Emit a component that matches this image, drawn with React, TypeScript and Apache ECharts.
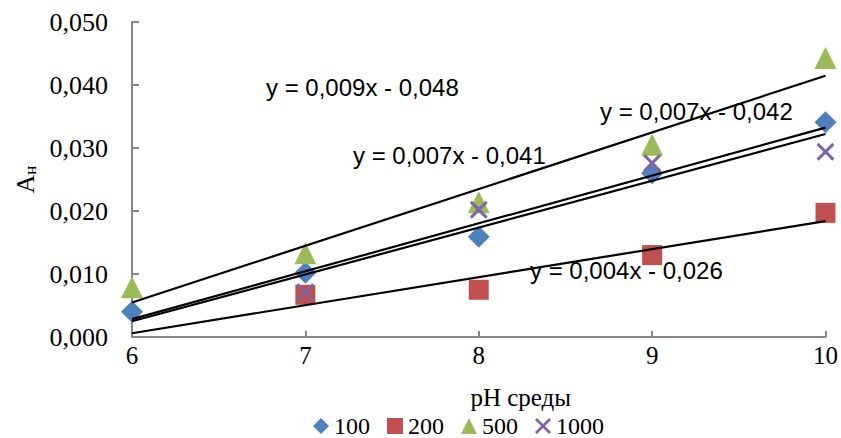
import React, { useEffect, useRef } from "react";
import * as echarts from "echarts";

const phValues = [6, 7, 8, 9, 10];
const s100 = [0.004, 0.0102, 0.0159, 0.026, 0.0341];
const s200 = [null, 0.0067, 0.0075, 0.013, 0.0197];
const s500 = [0.0079, 0.0133, 0.0214, 0.0305, 0.0443];
const s1000 = [null, 0.0071, 0.0202, 0.0276, 0.0294];
const seriesNames = ["100", "200", "500", "1000"];
const seriesColors = ["#4F81BD", "#C0504D", "#9BBB59", "#8064A2"];
const trendLabels = [
  { text: "y = 0,009x - 0,048", x: 266, y: 89 },
  { text: "y = 0,007x - 0,041", x: 353, y: 157 },
  { text: "y = 0,007x - 0,042", x: 600, y: 113 },
  { text: "y = 0,004x - 0,026", x: 530, y: 272 },
];
const yTicks = ["0,000", "0,010", "0,020", "0,030", "0,040", "0,050"];

const crossPath =
  "path://M0,1.2 L1.2,0 L5,3.8 L8.8,0 L10,1.2 L6.2,5 L10,8.8 L8.8,10 L5,6.2 L1.2,10 L0,8.8 L3.8,5 Z";

function regression(xs: number[], ys: (number | null)[]) {
  const pts = xs.map((x, i) => [x, ys[i]] as [number, number | null]).filter((p) => p[1] != null) as [number, number][];
  const n = pts.length;
  const mx = pts.reduce((a, p) => a + p[0], 0) / n;
  const my = pts.reduce((a, p) => a + p[1], 0) / n;
  let sxy = 0, sxx = 0;
  pts.forEach((p) => { sxy += (p[0] - mx) * (p[1] - my); sxx += (p[0] - mx) ** 2; });
  const k = sxy / sxx;
  const b = my - k * mx;
  return { k, b };
}

export default function App() {
  const ref = useRef<HTMLDivElement>(null);
  useEffect(() => {
    document.body.style.margin = "0";
    const chart = echarts.init(ref.current!, null, { renderer: "svg" });
    const data = [s100, s200, s500, s1000];
    const symbols = ["diamond", "rect", "triangle", crossPath];
    const sizes = [22, 20, 22, 18];
    const scatter = data.map((d, i) => ({
      name: seriesNames[i],
      type: "scatter",
      symbol: symbols[i],
      symbolSize: sizes[i],
      itemStyle: { color: seriesColors[i], opacity: 1 },
      data: phValues.map((x, j) => (d[j] == null ? null : [x, d[j]])).filter((p) => p),
      z: 3,
    }));
    const xMin = phValues[0];
    const xMax = phValues[phValues.length - 1];
    const trends = data.map((d, i) => {
      const { k, b } = regression(phValues, d);
      return {
        name: "trend" + i,
        type: "line",
        symbol: "none",
        lineStyle: { color: "#000", width: 2.2 },
        data: [[xMin, k * xMin + b], [xMax, k * xMax + b]],
        z: 4,
        silent: true,
      };
    });
    chart.setOption({
      animation: false,
      grid: { left: 132, right: 15, top: 22, bottom: 101, containLabel: false },
      legend: {
        data: seriesNames,
        top: 414,
        left: 313,
        padding: 0,
        itemGap: 17,
        itemWidth: 16,
        itemHeight: 16,
        textStyle: { fontFamily: "Liberation Serif", fontSize: 24, lineHeight: 24, color: "#000" },
      },
      xAxis: {
        type: "value",
        min: 6,
        max: 10,
        interval: 1,
        name: "pH среды",
        nameLocation: "middle",
        nameGap: 48,
        nameTextStyle: { fontFamily: "Liberation Serif", fontSize: 25, lineHeight: 25, color: "#000", padding: [0, 0, 0, 84] },
        axisLine: { lineStyle: { color: "#868686", width: 2 } },
        axisTick: { inside: true, length: 6, lineStyle: { color: "#868686", width: 2 } },
        axisLabel: { fontFamily: "Liberation Serif", fontSize: 25, color: "#000", margin: 6 },
        splitLine: { show: false },
      },
      yAxis: {
        type: "value",
        min: 0,
        max: 0.05,
        interval: 0.01,
        name: "{a|А}{s|н}",
        nameLocation: "middle",
        nameGap: 90,
        nameRotate: 90,
        nameTextStyle: {
          rich: {
            a: { fontFamily: "Liberation Serif", fontSize: 26, color: "#000", verticalAlign: "bottom" },
            s: { fontFamily: "Liberation Serif", fontSize: 17, color: "#000", verticalAlign: "bottom", padding: [8, 0, 0, 0] },
          },
        },
        axisLine: { show: true, lineStyle: { color: "#868686", width: 2 } },
        axisTick: { show: true, inside: true, length: 7, lineStyle: { color: "#868686", width: 2 } },
        axisLabel: {
          fontFamily: "Liberation Serif",
          fontSize: 26,
          color: "#000",
          margin: 24,
          formatter: (v: number) => yTicks[Math.round(v / 0.01)],
        },
        splitLine: { show: false },
      },
      graphic: trendLabels.map((t) => ({
        type: "text",
        left: t.x,
        top: t.y - 14,
        z: 10,
        style: { text: t.text, fontFamily: "Liberation Sans", fontSize: 24, fill: "#000" },
      })),
      series: [...scatter, ...trends],
    });
    return () => chart.dispose();
  }, []);
  return <div ref={ref} style={{ width: 841, height: 438 }} />;
}
